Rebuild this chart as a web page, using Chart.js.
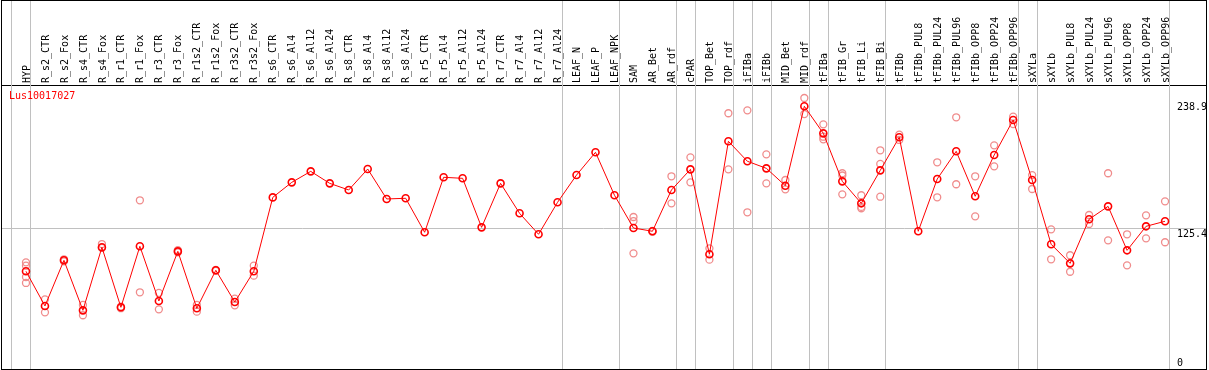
<!DOCTYPE html>
<html>
<head>
<meta charset="utf-8">
<script src="https://cdn.jsdelivr.net/npm/chart.js@4.4.1/dist/chart.umd.min.js"></script>
<style>
  html, body { margin: 0; padding: 0; background: #fff; }
  #wrap { width: 1209px; height: 370px; }
</style>
</head>
<body>
<div id="wrap"><canvas id="myChart"></canvas></div>
<script>
const _ = null;

const categories = [
  'HYP', 'R_s2_CTR', 'R_s2_Fox', 'R_s4_CTR', 'R_s4_Fox', 'R_r1_CTR', 'R_r1_Fox', 'R_r3_CTR', 'R_r3_Fox',
  'R_r1s2_CTR', 'R_r1s2_Fox', 'R_r3s2_CTR', 'R_r3s2_Fox', 'R_s6_CTR', 'R_s6_Al4', 'R_s6_Al12', 'R_s6_Al24',
  'R_s8_CTR', 'R_s8_Al4', 'R_s8_Al12', 'R_s8_Al24', 'R_r5_CTR', 'R_r5_Al4', 'R_r5_Al12', 'R_r5_Al24',
  'R_r7_CTR', 'R_r7_Al4', 'R_r7_Al12', 'R_r7_Al24', 'LEAF_N', 'LEAF_P', 'LEAF_NPK', 'SAM', 'AR_Bet', 'AR_rdf',
  'cPAR', 'TOP_Bet', 'TOP_rdf', 'iFIBa', 'iFIBb', 'MID_Bet', 'MID_rdf', 'tFIBa', 'tFIB_Gr', 'tFIB_Li', 'tFIB_Bi',
  'tFIBb', 'tFIBb_PUL8', 'tFIBb_PUL24', 'tFIBb_PUL96', 'tFIBb_OPP8', 'tFIBb_OPP24', 'tFIBb_OPP96',
  'sXYLa', 'sXYLb', 'sXYLb_PUL8', 'sXYLb_PUL24', 'sXYLb_PUL96', 'sXYLb_OPP8', 'sXYLb_OPP24', 'sXYLb_OPP96'
];

// mean expression (red line)
const meanVals = [
  87.1, 56.2, 96.9, 52.3, 108.5, 55.0, 109.4, 60.6, 104.9, 54.1, 88.0, 59.7, 87.1,
  153.0, 166.4, 176.2, 165.5, 159.6, 178.3, 151.6, 152.2, 121.9, 170.9, 170.0, 126.3,
  165.5, 138.8, 120.1, 148.6, 172.9, 193.2, 154.9,
  125.7, 122.8, 159.6, 178.0, 102.3, 203.0, 185.2, 178.9, 163.4, 234.2, 210.1, 167.3, 147.7, 177.1, 206.6,
  122.8, 169.4, 194.1, 154.0, 190.8, 222.0, 168.5, 111.2, 94.2, 133.5, 145.0, 105.8, 127.2, 131.7
];

// replicates (pale circles)
const rep1 = [
  95.1, 62.1, 97.8, 57.1, 111.4, 55.6, 150.4, 67.8, 106.0, 57.1, 88.3, 62.7, 92.1,
  _, _, _, _, _, _, _, _, _, _, _, _, _, _, _, _, _, _, _,
  135.5, 123.2, 171.8, 188.7, 107.6, 228.0, 230.6, 191.4, 168.5, 241.6, 218.1, 174.5, 154.9, 195.0, 209.0,
  _, 184.3, 224.4, 171.8, 199.4, 225.0, 172.9, 124.5, 101.4, 137.3, 174.5, 120.1, 137.0, 149.5
];
const rep2 = [
  82.0, 50.5, 96.0, 47.9, 107.9, 54.2, 68.4, 53.2, 104.0, 51.1, 87.5, 56.8, 83.2,
  _, _, _, _, _, _, _, _, _, _, _, _, _, _, _, _, _, _, _,
  103.1, 122.4, 147.7, 166.4, 97.5, 178.0, 139.7, 165.5, 160.2, 227.3, 207.1, 155.7, 143.3, 153.6, 204.2,
  _, 153.1, 164.7, 136.1, 180.7, 218.4, 160.5, 97.8, 86.7, 129.3, 114.7, 92.4, 116.5, 113.0
];
const rep3 = [
  76.7, _, _, _, _, _, _, _, _, _, _, _, _,
  _, _, _, _, _, _, _, _, _, _, _, _, _, _, _, _, _, _, _,
  131.9, _, _, _, _, _, _, _, _, _, 204.8, 172.5, 144.5, 182.8, _,
  _, _, _, _, _, _, _, _, _, _, _, _, _, _
];
const rep4 = [
  92.1, _, _, _, _, _, _, _, _, _, _, _, _,
  _, _, _, _, _, _, _, _, _, _, _, _, _, _, _, _, _, _, _,
  _, _, _, _, _, _, _, _, _, _, _, _, _, _, _,
  _, _, _, _, _, _, _, _, _, _, _, _, _, _
];

const yTicks = [0, 125.4, 238.9];
const groupEnds = [-1, 0, 28, 31, 34, 35, 37, 38, 39, 41, 42, 45, 52, 53, 60];
const geneId = 'Lus10017027';

const FONT = { family: 'DejaVu Sans Mono', size: 10 };

const pts = arr => arr.map((v, i) => ({ x: i, y: v })).filter(p => p.y !== null);

const frame = {
  id: 'frame',
  beforeDatasetsDraw(chart) {
    const { ctx, chartArea, scales } = chart;
    ctx.save();
    ctx.strokeStyle = '#c0c0c0';
    ctx.lineWidth = 1;
    groupEnds.forEach(g => {
      const x = Math.round(scales.x.getPixelForValue(g + 0.23)) + 0.5;
      ctx.beginPath();
      ctx.moveTo(x, 0);
      ctx.lineTo(x, chartArea.bottom);
      ctx.stroke();
    });
    ctx.restore();
  },
  afterDraw(chart) {
    const { ctx, chartArea } = chart;
    ctx.save();
    ctx.strokeStyle = '#000';
    ctx.lineWidth = 1;
    ctx.strokeRect(chartArea.left + 0.5, 0.5, chartArea.right - chartArea.left, chartArea.bottom);
    ctx.fillStyle = '#ff0000';
    ctx.font = '10px "DejaVu Sans Mono"';
    ctx.textBaseline = 'top';
    ctx.fillText(geneId, chartArea.left + 8, chartArea.top + 6);
    ctx.restore();
  }
};

const repStyle = {
  showLine: false,
  pointRadius: 3.5,
  pointBorderWidth: 1.3,
  pointBorderColor: '#f08c8c',
  pointBackgroundColor: 'rgba(0,0,0,0)'
};

new Chart(document.getElementById('myChart'), {
  type: 'line',
  data: {
    datasets: [
      {
        label: 'mean',
        data: pts(meanVals),
        borderColor: '#ff0000',
        borderWidth: 1,
        tension: 0,
        pointRadius: 3.5,
        pointBorderWidth: 1.6,
        pointBorderColor: '#ff0000',
        pointBackgroundColor: 'rgba(0,0,0,0)'
      },
      Object.assign({ label: 'rep1', data: pts(rep1) }, repStyle),
      Object.assign({ label: 'rep2', data: pts(rep2) }, repStyle),
      Object.assign({ label: 'rep3', data: pts(rep3) }, repStyle),
      Object.assign({ label: 'rep4', data: pts(rep4) }, repStyle)
    ]
  },
  options: {
    responsive: true,
    maintainAspectRatio: false,
    animation: false,
    layout: { autoPadding: false, padding: { left: 1, right: 1, top: 0, bottom: 1 } },
    plugins: { legend: { display: false }, tooltip: { enabled: false } },
    scales: {
      x: {
        type: 'linear',
        position: 'top',
        min: -1.316,
        max: 62.158,
        afterBuildTicks: s => { s.ticks = categories.map((c, i) => ({ value: i })); },
        afterFit: s => { s.height = 85; s.paddingLeft = 0; s.paddingRight = 0; },
        ticks: {
          autoSkip: false,
          minRotation: 90,
          maxRotation: 90,
          padding: 2,
          labelOffset: 13,
          color: '#000',
          font: FONT,
          callback: v => categories[v]
        },
        grid: { display: false, drawTicks: false },
        border: { display: true, color: '#000', width: 1 }
      },
      y: {
        type: 'linear',
        position: 'right',
        min: 0,
        max: 253.2,
        afterBuildTicks: s => { s.ticks = yTicks.map(v => ({ value: v })); },
        afterFit: s => { s.paddingTop = 0; s.paddingBottom = 0; },
        ticks: {
          mirror: true,
          crossAlign: 'far',
          padding: 1,
          color: '#000',
          font: FONT,
          callback: v => v === 0 ? ['0', ''] : ['', String(v)]
        },
        grid: {
          drawTicks: false,
          color: c => (c.tick && c.tick.value === 125.4) ? '#c0c0c0' : 'rgba(0,0,0,0)'
        },
        border: { display: true, color: '#000', width: 1 }
      }
    }
  },
  plugins: [frame]
});
</script>
</body>
</html>
